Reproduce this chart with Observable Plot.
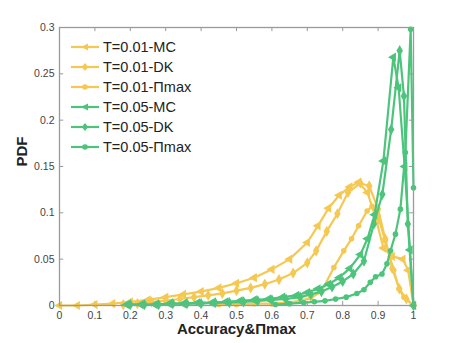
<!DOCTYPE html>
<html>
<head>
<meta charset="utf-8">
<script src="https://cdn.jsdelivr.net/npm/d3@7"></script>
<script src="https://cdn.jsdelivr.net/npm/@observablehq/plot@0.6"></script>
<style>
  html, body { margin: 0; padding: 0; background: #fff; }
  #wrap { position: relative; width: 457px; height: 343px; font-family: "Liberation Sans", Arial, sans-serif; }
  #legend { position: absolute; left: 70px; top: 37px; }
  .row { display: flex; align-items: center; height: 20px; }
  .row span { font-size: 14.5px; color: #222; margin-left: 3px; }
</style>
</head>
<body>
<div id="wrap"><div id="legend"></div></div>
<script>
// ---- data ----
const seriesNames = ["T=0.01-MC", "T=0.01-DK", "T=0.01-Πmax", "T=0.05-MC", "T=0.05-DK", "T=0.05-Πmax"];
const seriesColors = ["#f5c851", "#f5c851", "#f5c851", "#4cc47c", "#4cc47c", "#4cc47c"];
const seriesSymbols = ["tri", "diamond", "circle", "tri", "diamond", "circle"];

const x01MC = [0, 0.05, 0.1, 0.15, 0.2, 0.25, 0.3, 0.35, 0.4, 0.45, 0.5, 0.55, 0.6, 0.65, 0.7, 0.73, 0.76, 0.79, 0.82, 0.845, 0.87, 0.895, 0.915, 0.94, 0.97, 0.985, 1.0];
const y01MC = [0, 0, 0.001, 0.002, 0.004, 0.006, 0.009, 0.012, 0.015, 0.019, 0.024, 0.030, 0.039, 0.050, 0.068, 0.086, 0.105, 0.119, 0.128, 0.133, 0.122, 0.092, 0.062, 0.053, 0.050, 0.038, 0.0];

const x01DK = [0.18, 0.22, 0.26, 0.3, 0.34, 0.38, 0.42, 0.46, 0.5, 0.54, 0.58, 0.62, 0.66, 0.7, 0.725, 0.755, 0.785, 0.815, 0.85, 0.875, 0.9, 0.92, 0.94, 0.96, 0.98, 1.0];
const y01DK = [0.001, 0.002, 0.004, 0.005, 0.007, 0.009, 0.011, 0.013, 0.016, 0.019, 0.023, 0.028, 0.035, 0.046, 0.059, 0.080, 0.099, 0.122, 0.132, 0.129, 0.104, 0.072, 0.040, 0.018, 0.007, 0.0];

const x01PM = [0.45, 0.5, 0.55, 0.6, 0.64, 0.68, 0.71, 0.74, 0.775, 0.803, 0.825, 0.845, 0.869, 0.883, 0.9, 0.92, 0.944, 0.959, 0.973, 1.0];
const y01PM = [0.001, 0.001, 0.002, 0.002, 0.003, 0.005, 0.008, 0.015, 0.041, 0.059, 0.072, 0.086, 0.102, 0.107, 0.096, 0.070, 0.038, 0.018, 0.009, 0.0];

const x05MC = [0.19, 0.23, 0.27, 0.31, 0.35, 0.39, 0.43, 0.47, 0.51, 0.55, 0.59, 0.63, 0.67, 0.7, 0.73, 0.76, 0.79, 0.82, 0.85, 0.87, 0.89, 0.915, 0.943, 0.958, 0.975, 0.99, 1.0];
const y05MC = [0.001, 0.001, 0.001, 0.002, 0.002, 0.003, 0.003, 0.004, 0.005, 0.006, 0.007, 0.009, 0.011, 0.014, 0.018, 0.023, 0.030, 0.040, 0.055, 0.072, 0.098, 0.156, 0.268, 0.235, 0.150, 0.060, 0.0];

const x05DK = [0.2, 0.24, 0.28, 0.32, 0.36, 0.4, 0.44, 0.48, 0.52, 0.56, 0.6, 0.64, 0.68, 0.71, 0.74, 0.77, 0.8, 0.83, 0.86, 0.888, 0.912, 0.937, 0.961, 0.973, 0.984, 1.0];
const y05DK = [0.001, 0.001, 0.001, 0.002, 0.002, 0.002, 0.003, 0.003, 0.004, 0.005, 0.006, 0.007, 0.009, 0.012, 0.015, 0.020, 0.026, 0.034, 0.048, 0.088, 0.120, 0.190, 0.275, 0.226, 0.088, 0.0];

const x05PM = [0.61, 0.65, 0.69, 0.72, 0.75, 0.78, 0.81, 0.84, 0.86, 0.878, 0.893, 0.911, 0.925, 0.935, 0.949, 0.963, 0.977, 0.992, 1.0];
const y05PM = [0.001, 0.002, 0.003, 0.004, 0.005, 0.007, 0.009, 0.013, 0.017, 0.025, 0.031, 0.034, 0.045, 0.059, 0.077, 0.104, 0.165, 0.298, 0.127];

const xTicks = [0, 0.1, 0.2, 0.3, 0.4, 0.5, 0.6, 0.7, 0.8, 0.9, 1];
const yTicks = [0, 0.05, 0.1, 0.15, 0.2, 0.25, 0.3];

// ---- build table ----
const xsAll = [x01MC, x01DK, x01PM, x05MC, x05DK, x05PM];
const ysAll = [y01MC, y01DK, y01PM, y05MC, y05DK, y05PM];
const rows = [];
xsAll.forEach((xs, s) => xs.forEach((x, i) => rows.push({x, y: ysAll[s][i], s: seriesNames[s], si: s})));

const symbolFor = (k) => k === "tri" ? "triangle" : k;
const marks = [];
seriesNames.forEach((name, s) => {
  const d = rows.filter(r => r.si === s);
  marks.push(Plot.line(d, {x: "x", y: "y", stroke: seriesColors[s], strokeWidth: 2.2}));
  const sym = seriesSymbols[s];
  marks.push(Plot.dot(d, {x: "x", y: "y", fill: seriesColors[s], stroke: "none",
    symbol: symbolFor(sym), r: sym === "circle" ? 2.8 : 3.4, rotate: sym === "tri" ? -90 : 0}));
});

const tickLenY = 0.0045, tickLenX = 0.012;
const axisColor = "#9a9a9a";

const chart = Plot.plot({
  width: 457,
  height: 343,
  marginLeft: 59,
  marginRight: 44,
  marginTop: 27,
  marginBottom: 38,
  style: {fontFamily: "Liberation Sans, Arial, sans-serif", background: "#fff"},
  x: {domain: [0, 1]},
  y: {domain: [0, 0.3]},
  marks: [
    // inward ticks
    Plot.ruleX(xTicks, {x: d => d, y1: 0, y2: tickLenY, stroke: axisColor}),
    Plot.ruleX(xTicks, {x: d => d, y1: 0.3 - tickLenY, y2: 0.3, stroke: axisColor}),
    Plot.ruleY(yTicks, {y: d => d, x1: 0, x2: tickLenX, stroke: axisColor}),
    Plot.ruleY(yTicks, {y: d => d, x1: 1 - tickLenX, x2: 1, stroke: axisColor}),
    Plot.axisX(xTicks, {tickSize: 0, tickPadding: 6, fontSize: 10.5, fill: "#444", label: null, tickFormat: d => String(d)}),
    Plot.axisY(yTicks, {tickSize: 0, tickPadding: 5, fontSize: 10.5, fill: "#444", label: null, tickFormat: d => String(d)}),
    ...marks,
    Plot.frame({stroke: axisColor, strokeWidth: 1.3}),
    Plot.text(["Accuracy&Πmax"], {frameAnchor: "bottom", dy: 28, fontSize: 15, fontWeight: "bold", fill: "#222"}),
    Plot.text(["PDF"], {frameAnchor: "left", dx: -37, rotate: -90, fontSize: 15, fontWeight: "bold", fill: "#222"})
  ]
});
document.getElementById("wrap").prepend(chart);
chart.style.position = "absolute"; chart.style.left = "0"; chart.style.top = "0";

// ---- legend ----
const legend = document.getElementById("legend");
const symPath = {
  tri: "M-4,0 L3,-3.6 L3,3.6 Z",
  diamond: "M0,-4 L3.2,0 L0,4 L-3.2,0 Z",
  circle: null
};
seriesNames.forEach((name, s) => {
  const row = document.createElement("div");
  row.className = "row";
  const sw = document.createElementNS("http://www.w3.org/2000/svg", "svg");
  sw.setAttribute("width", "30"); sw.setAttribute("height", "12");
  const c = seriesColors[s];
  let inner = `<line x1="1" y1="6" x2="29" y2="6" stroke="${c}" stroke-width="2.2"/>`;
  const k = seriesSymbols[s];
  if (k === "circle") inner += `<circle cx="15" cy="6" r="2.8" fill="${c}"/>`;
  else inner += `<path transform="translate(15,6)" d="${symPath[k]}" fill="${c}"/>`;
  sw.innerHTML = inner;
  row.appendChild(sw);
  const t = document.createElement("span");
  t.textContent = name;
  row.appendChild(t);
  legend.appendChild(row);
});
</script>
</body>
</html>
